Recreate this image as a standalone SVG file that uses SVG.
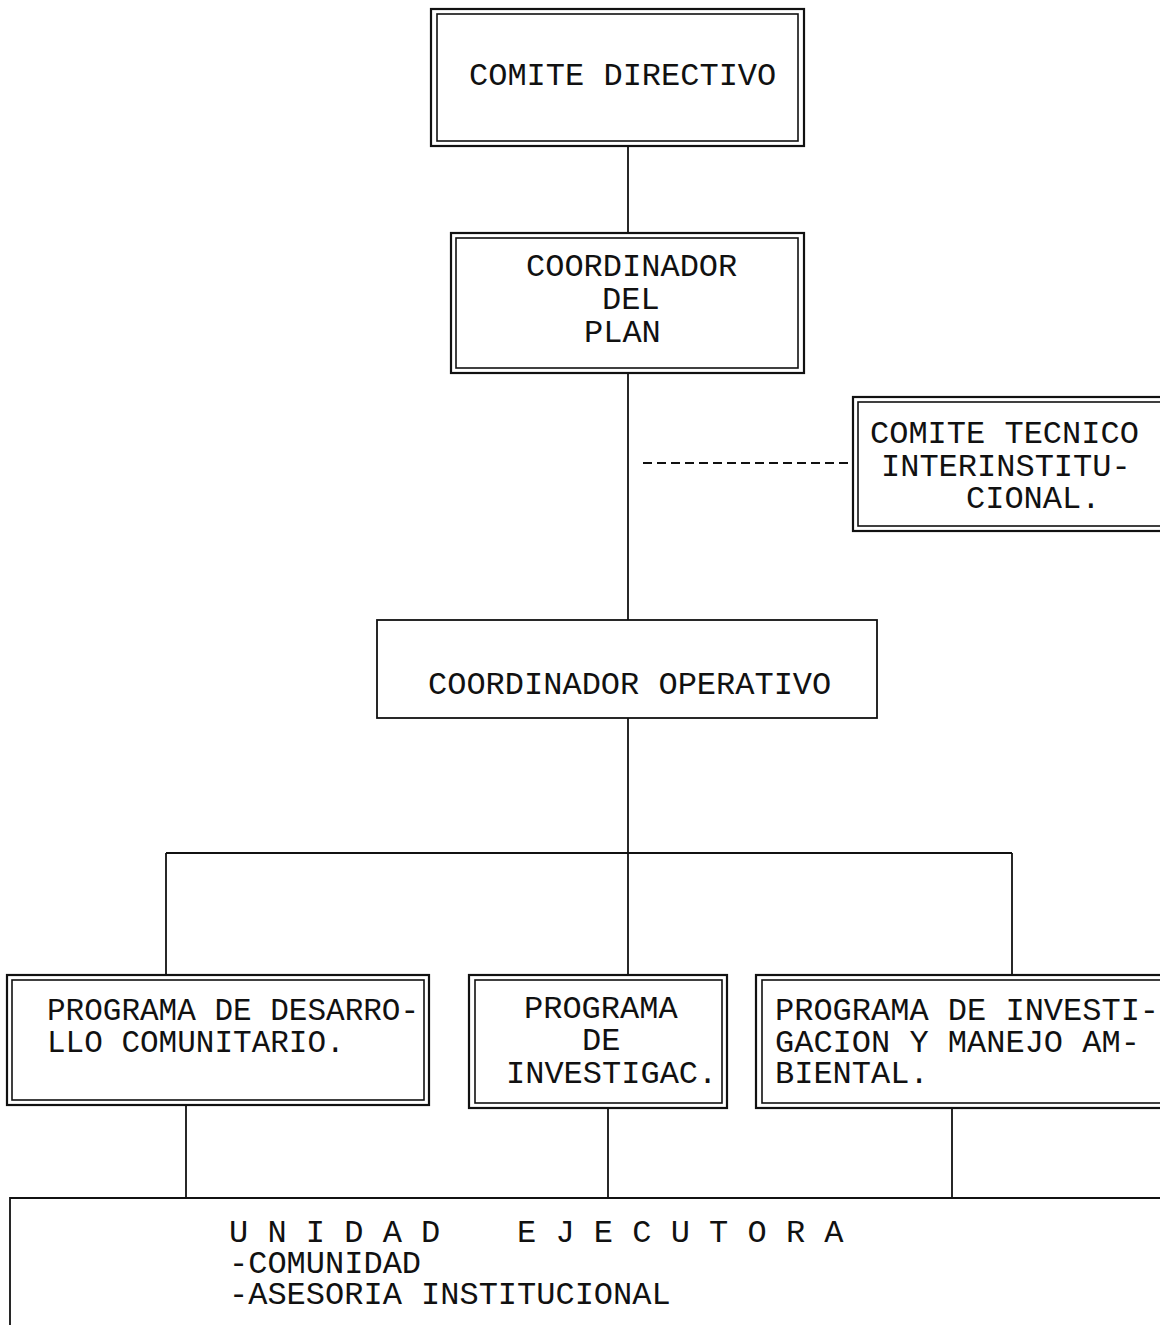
<svg xmlns="http://www.w3.org/2000/svg" width="1160" height="1325" viewBox="0 0 1160 1325">
<style>
.o{fill:none;stroke:#111;stroke-width:2.2}
.i{fill:none;stroke:#111;stroke-width:1.6}
.t{font-family:"Liberation Mono","Courier New",monospace;font-size:32px;fill:#111;white-space:pre}
.l{fill:none;stroke:#111;stroke-width:1.8}
.d{fill:none;stroke:#111;stroke-width:1.8;stroke-dasharray:9 5}
</style>
<rect width="1160" height="1325" fill="#fff"/>
<g id="connectors">
<line class="l" x1="628" y1="146" x2="628" y2="233"/>
<line class="l" x1="628" y1="373" x2="628" y2="620"/>
<line class="d" x1="643" y1="463" x2="853" y2="463"/>
<line class="l" x1="628" y1="718" x2="628" y2="853"/>
<line class="l" x1="166" y1="853" x2="1012" y2="853"/>
<line class="l" x1="166" y1="853" x2="166" y2="975"/>
<line class="l" x1="628" y1="853" x2="628" y2="975"/>
<line class="l" x1="1012" y1="853" x2="1012" y2="975"/>
<line class="l" x1="186" y1="1105" x2="186" y2="1198"/>
<line class="l" x1="608" y1="1108" x2="608" y2="1198"/>
<line class="l" x1="952" y1="1108" x2="952" y2="1198"/>
</g>
<g id="comite-directivo">
<rect class="o" x="431" y="9" width="373" height="137"/>
<rect class="i" x="437" y="14" width="361" height="127"/>
<text class="t" x="469" y="85">COMITE DIRECTIVO</text>
</g>
<g id="coordinador-plan">
<rect class="o" x="451" y="233" width="353" height="140"/>
<rect class="i" x="456" y="238" width="342" height="130"/>
<text class="t" x="526" y="276">COORDINADOR</text>
<text class="t" x="602" y="309">DEL</text>
<text class="t" x="584" y="342">PLAN</text>
</g>
<g id="comite-tecnico">
<rect class="o" x="853" y="397" width="320" height="134"/>
<rect class="i" x="858" y="402" width="320" height="124"/>
<text class="t" x="870" y="443">COMITE TECNICO</text>
<text class="t" x="881" y="476">INTERINSTITU-</text>
<text class="t" x="966" y="508">CIONAL.</text>
</g>
<g id="coordinador-operativo">
<rect class="l" x="377" y="620" width="500" height="98"/>
<text class="t" x="428" y="694">COORDINADOR OPERATIVO</text>
</g>
<g id="programa-desarrollo">
<rect class="o" x="7" y="975" width="422" height="130"/>
<rect class="i" x="12" y="980" width="412" height="120"/>
<text class="t" x="47" y="1020" style="font-size:31px">PROGRAMA DE DESARRO-</text>
<text class="t" x="47" y="1052" style="font-size:31px">LLO COMUNITARIO.</text>
</g>
<g id="programa-investigac">
<rect class="o" x="469" y="975" width="258" height="133"/>
<rect class="i" x="475" y="980" width="247" height="123"/>
<text class="t" x="524" y="1018">PROGRAMA</text>
<text class="t" x="582" y="1050">DE</text>
<text class="t" x="506" y="1083">INVESTIGAC.</text>
</g>
<g id="programa-ambiental">
<rect class="o" x="756" y="975" width="420" height="133"/>
<rect class="i" x="762" y="980" width="420" height="123"/>
<text class="t" x="775" y="1020">PROGRAMA DE INVESTI-</text>
<text class="t" x="775" y="1052">GACION Y MANEJO AM-</text>
<text class="t" x="775" y="1083">BIENTAL.</text>
</g>
<g id="unidad-ejecutora">
<polyline class="l" points="10,1330 10,1198 1165,1198"/>
<text class="t" x="229" y="1242" xml:space="preserve">U N I D A D    E J E C U T O R A</text>
<text class="t" x="229" y="1273">-COMUNIDAD</text>
<text class="t" x="229" y="1304">-ASESORIA INSTITUCIONAL</text>
</g>
</svg>
